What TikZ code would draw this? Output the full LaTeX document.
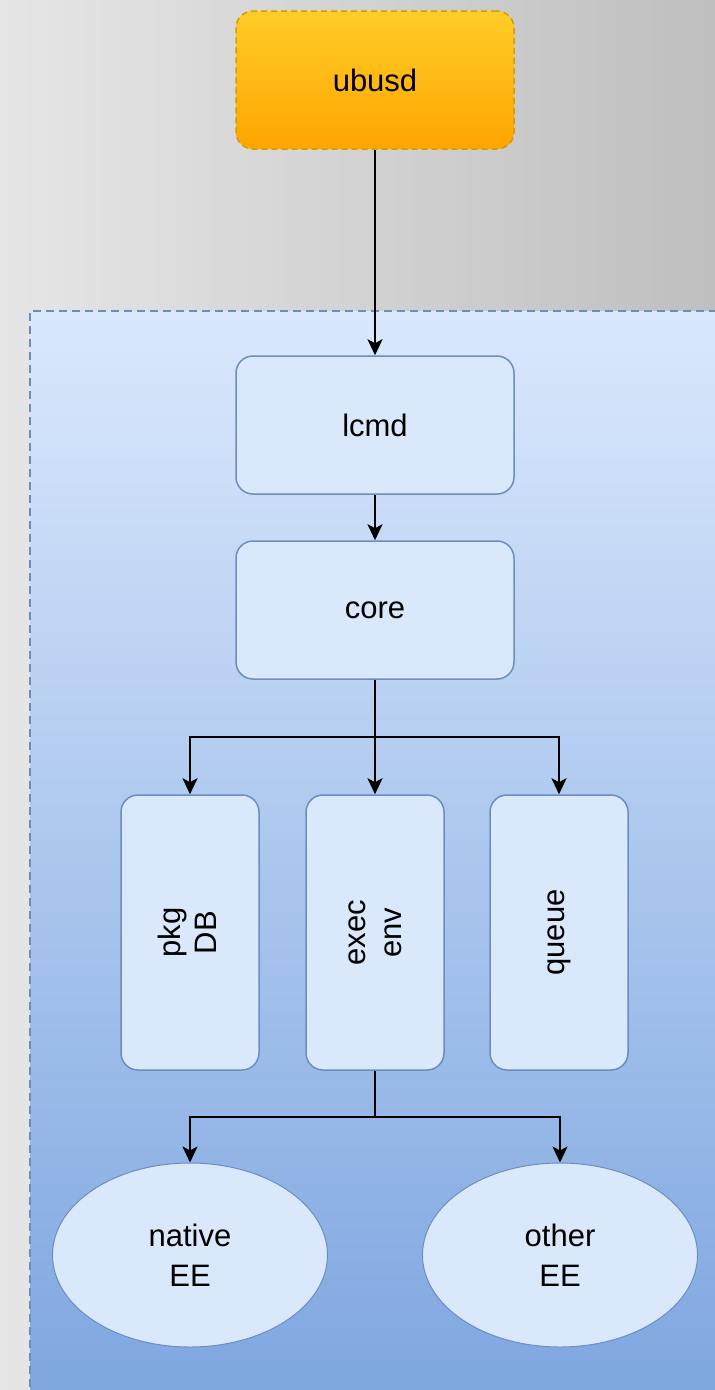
\documentclass[tikz,border=0pt]{standalone}
\usepackage{fontspec}
\setmainfont{Liberation Sans}
\usetikzlibrary{shapes.geometric,arrows.meta}
\definecolor{bluefill}{HTML}{DAE8FC}
\definecolor{blueline}{HTML}{6C8EBF}
\definecolor{bluedark}{HTML}{7EA6E0}
\definecolor{orangetop}{HTML}{FFCD28}
\definecolor{orangebot}{HTML}{FFA500}
\definecolor{orangeline}{HTML}{D79B00}
\definecolor{bgleft}{HTML}{E6E6E6}
\definecolor{bgright}{HTML}{BFBFBF}
\tikzset{
  every node/.style={font=\fontsize{31}{40}\selectfont, align=center, inner sep=0pt},
  procbox/.style={draw=blueline, fill=bluefill, line width=1.5pt, rounded corners=17pt,
    minimum width=278pt, minimum height=138pt},
  vbox/.style={draw=blueline, fill=bluefill, line width=1.5pt, rounded corners=17pt,
    minimum width=138pt, minimum height=275pt},
  eebox/.style={ellipse, draw=blueline, fill=bluefill, line width=1pt,
    minimum width=275pt, minimum height=184pt},
  topbox/.style={draw=orangeline, dashed, dash pattern=on 6pt off 4pt, line width=1.5pt,
    rounded corners=17pt, top color=orangetop, bottom color=orangebot,
    minimum width=278pt, minimum height=138pt},
  arr/.style={-{Stealth[length=16pt,width=15pt,inset=4pt]}, line width=2.4pt, black},
  lnk/.style={line width=2.4pt, black}
}
\begin{document}
\begin{tikzpicture}[x=1pt,y=-1pt]
\useasboundingbox (0,0) rectangle (715,1390);
\begin{scope}
\clip (0,0) rectangle (715,1390);
\shade[left color=bgleft, right color=bgright] (0,0) rectangle (715,1390);
\shade[top color=bluefill, bottom color=bluedark] (30,311) rectangle (730,1400);
\draw[blueline, line width=1.5pt, dash pattern=on 8pt off 5pt] (730,311) -- (30,311) -- (30,1400);
\end{scope}
\node[topbox] (ubusd) at (375,80) {ubusd};
\node[procbox] (lcmd) at (375,425) {lcmd};
\node[procbox] (core) at (375,610) {core};
\node[vbox] (pkg) at (190,932.5) {\rotatebox{90}{\begin{tabular}{@{}c@{}}pkg\\[-4pt]DB\end{tabular}}};
\node[vbox] (exec) at (375,932.5) {\rotatebox{90}{\begin{tabular}{@{}c@{}}exec\\[-4pt]env\end{tabular}}};
\node[vbox] (queue) at (559,932.5) {\rotatebox{90}{queue}};
\node[eebox] (native) at (190,1255) {native\\EE};
\node[eebox] (other) at (560,1255) {other\\EE};
\coordinate (j1) at (375,737);
\coordinate (j2) at (375,1117);
\draw[arr] (ubusd.south) -- (lcmd.north);
\draw[arr] (lcmd.south) -- (core.north);
\draw[arr] (core.south) -- (exec.north);
\draw[arr] (j1) -| (pkg.north);
\draw[arr] (j1) -| (queue.north);
\draw[lnk] (exec.south) -- (j2);
\draw[arr] (j2) -| (native.north);
\draw[arr] (j2) -| (other.north);
\end{tikzpicture}
\end{document}
